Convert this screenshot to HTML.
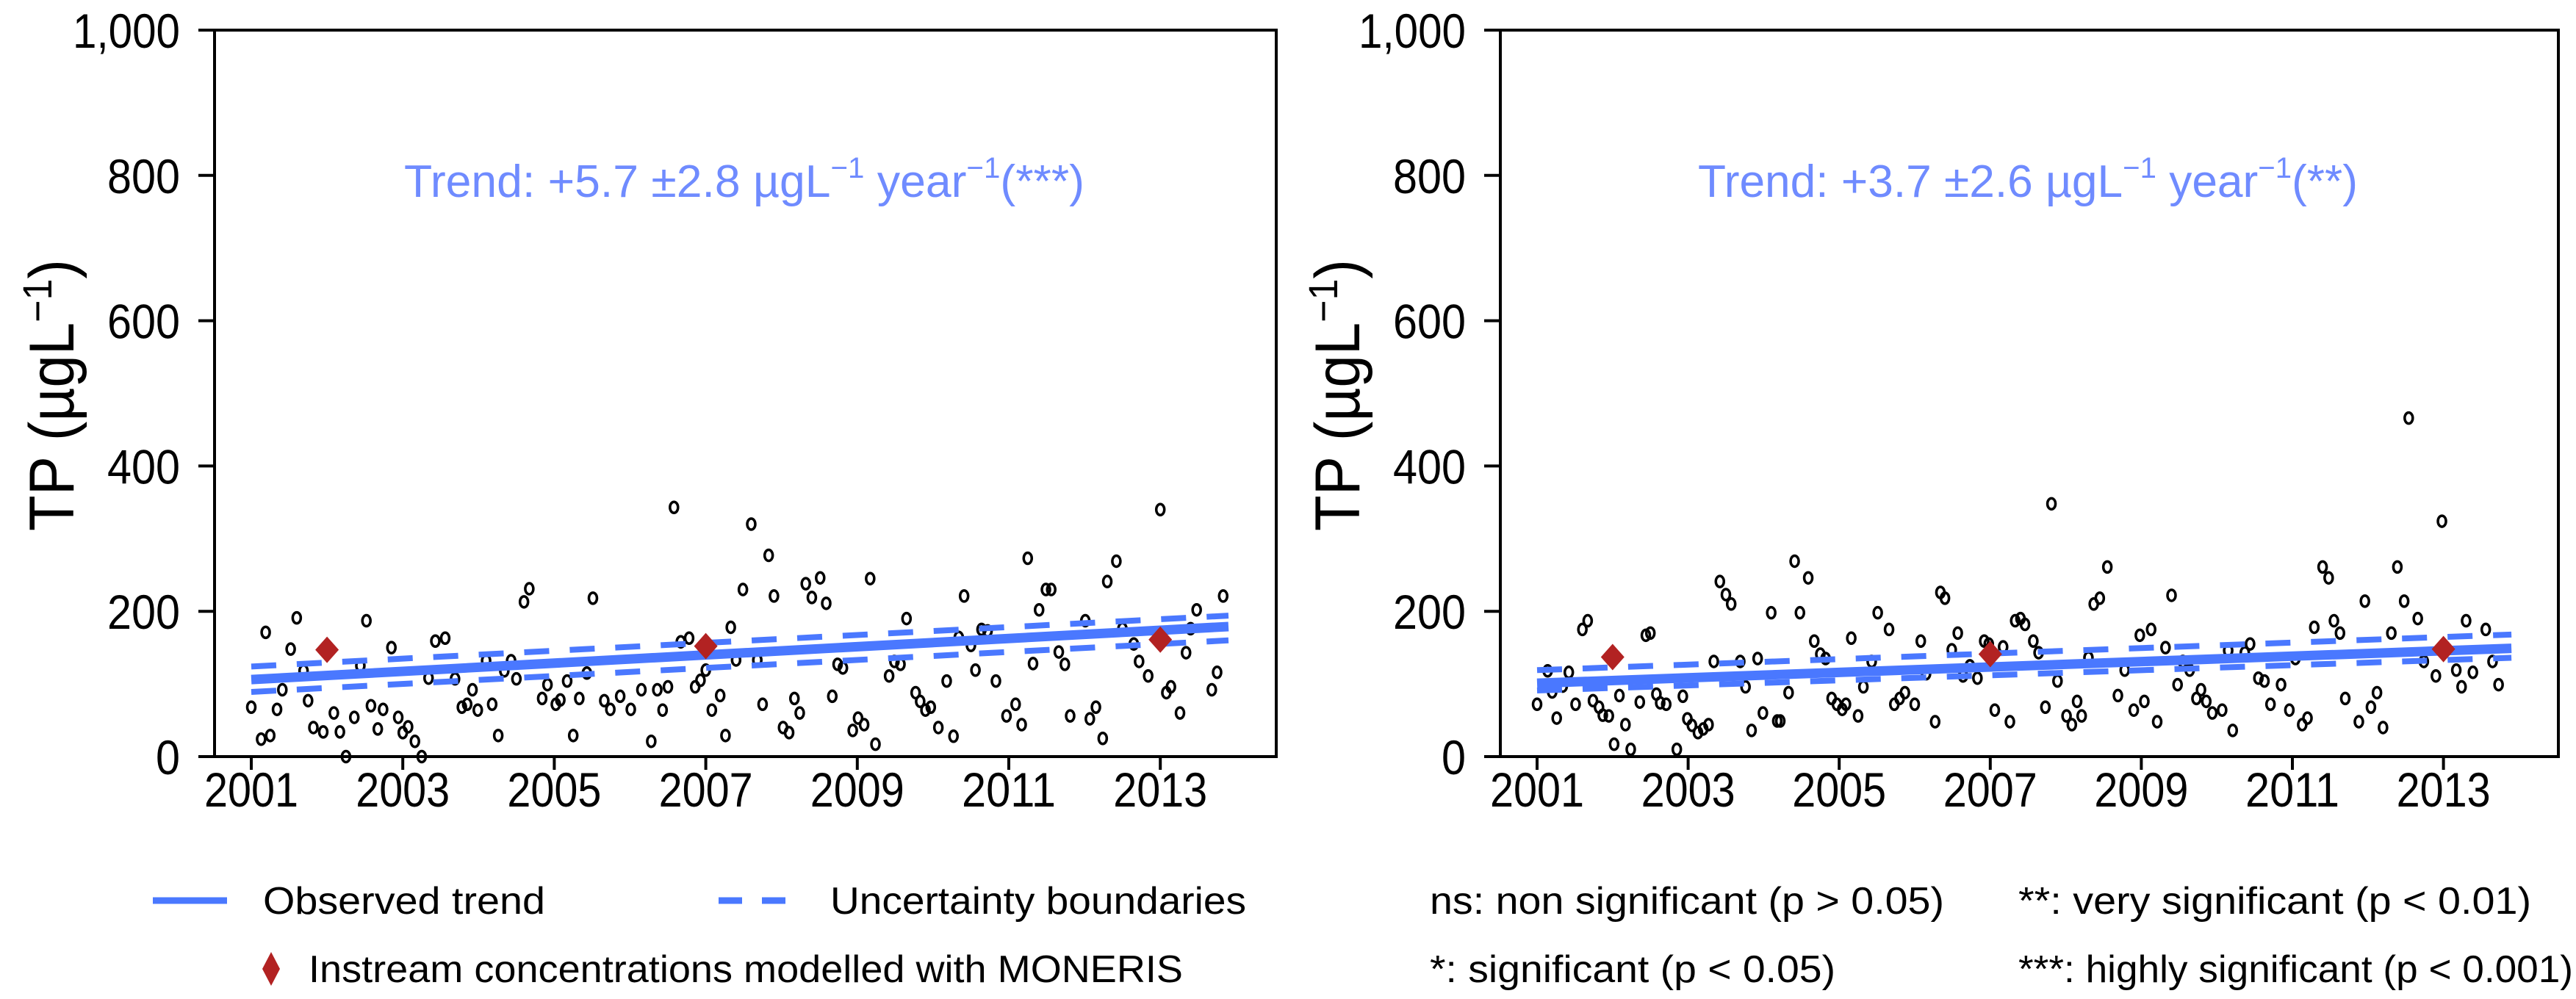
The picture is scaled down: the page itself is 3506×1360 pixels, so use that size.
<!DOCTYPE html>
<html><head><meta charset="utf-8"><style>
html,body{margin:0;padding:0;background:#fff;}
svg{display:block;font-family:"Liberation Sans",sans-serif;}
</style></head><body>
<svg id="c" width="3506" height="1360" viewBox="0 0 3506 1360" xmlns="http://www.w3.org/2000/svg">
<g id="legend" font-size="52" fill="#000">
  <line x1="208" y1="1226" x2="309" y2="1226" stroke="#4a78ff" stroke-width="9"/>
  <text x="358" y="1244" textLength="384" lengthAdjust="spacingAndGlyphs">Observed trend</text>
  <line x1="978" y1="1226" x2="1069" y2="1226" stroke="#4a78ff" stroke-width="9" stroke-dasharray="32,27"/>
  <text x="1130" y="1244" textLength="566" lengthAdjust="spacingAndGlyphs">Uncertainty boundaries</text>
  <path d="M369 1296 L381 1319 L369 1342 L357 1319 Z" fill="#b22222"/>
  <text x="420" y="1337" textLength="1190" lengthAdjust="spacingAndGlyphs">Instream concentrations modelled with MONERIS</text>
  <text x="1946" y="1244" textLength="700" lengthAdjust="spacingAndGlyphs">ns: non significant (p &gt; 0.05)</text>
  <text x="2747" y="1244" textLength="698" lengthAdjust="spacingAndGlyphs">**: very significant (p &lt; 0.01)</text>
  <text x="1946" y="1337" textLength="552" lengthAdjust="spacingAndGlyphs">*: significant (p &lt; 0.05)</text>
  <text x="2747" y="1337" textLength="755" lengthAdjust="spacingAndGlyphs">***: highly significant (p &lt; 0.001)</text>
</g>
</svg>
<script>
// ---- data ----
const yTicks = [0, 200, 400, 600, 800, 1000];
const yTickLabels = ["0", "200", "400", "600", "800", "1,000"];
const xTicks = [2001, 2003, 2005, 2007, 2009, 2011, 2013];
const xTickLabels = ["2001", "2003", "2005", "2007", "2009", "2011", "2013"];

const leftObsX = [2001.00,2001.13,2001.19,2001.25,2001.34,2001.41,2001.52,2001.60,2001.69,2001.75,2001.82,2001.95,2002.09,2002.17,2002.25,2002.36,2002.44,2002.52,2002.58,2002.67,2002.74,2002.85,2002.94,2003.00,2003.07,2003.16,2003.25,2003.34,2003.43,2003.56,2003.69,2003.78,2003.85,2003.92,2003.99,2004.10,2004.18,2004.26,2004.34,2004.43,2004.50,2004.60,2004.67,2004.84,2004.91,2005.02,2005.08,2005.17,2005.25,2005.33,2005.43,2005.51,2005.66,2005.74,2005.87,2006.01,2006.15,2006.28,2006.36,2006.43,2006.50,2006.58,2006.67,2006.78,2006.86,2006.93,2007.00,2007.08,2007.19,2007.26,2007.33,2007.40,2007.49,2007.60,2007.68,2007.75,2007.83,2007.90,2008.02,2008.10,2008.17,2008.24,2008.32,2008.40,2008.51,2008.59,2008.67,2008.74,2008.81,2008.94,2009.01,2009.09,2009.17,2009.24,2009.42,2009.49,2009.57,2009.65,2009.77,2009.83,2009.90,2009.97,2010.07,2010.18,2010.27,2010.34,2010.41,2010.50,2010.56,2010.64,2010.72,2010.83,2010.97,2011.09,2011.17,2011.25,2011.32,2011.40,2011.49,2011.56,2011.66,2011.74,2011.81,2012.01,2012.07,2012.15,2012.24,2012.30,2012.42,2012.50,2012.65,2012.72,2012.84,2013.00,2013.08,2013.14,2013.26,2013.34,2013.40,2013.48,2013.68,2013.75,2013.83];
const leftObsY = [68,24,171,29,65,92,148,191,118,77,40,34,60,34,0,54,125,187,70,38,65,150,54,33,41,21,0,108,159,163,107,68,72,92,64,132,72,29,118,132,107,213,231,80,99,72,78,104,29,80,115,218,77,65,83,65,92,21,92,64,96,343,158,163,96,105,119,64,84,29,178,133,230,320,133,72,277,221,40,33,80,60,238,219,246,211,83,127,122,36,53,44,245,17,111,131,127,190,88,76,64,68,40,104,28,164,221,153,119,175,173,104,56,72,44,273,128,202,230,230,144,127,56,187,52,68,25,241,269,176,155,131,111,340,88,96,60,143,176,202,92,116,221];

const rightObsX = [2001.0,2001.14,2001.2,2001.26,2001.34,2001.42,2001.51,2001.6,2001.67,2001.74,2001.82,2001.87,2001.95,2002.02,2002.09,2002.17,2002.24,2002.36,2002.44,2002.5,2002.58,2002.63,2002.71,2002.85,2002.93,2002.99,2003.05,2003.13,2003.2,2003.27,2003.34,2003.42,2003.5,2003.57,2003.69,2003.76,2003.84,2003.92,2003.99,2004.1,2004.18,2004.22,2004.33,2004.41,2004.48,2004.59,2004.67,2004.75,2004.82,2004.9,2004.97,2005.04,2005.09,2005.16,2005.25,2005.32,2005.43,2005.51,2005.66,2005.73,2005.8,2005.87,2006.0,2006.08,2006.15,2006.27,2006.34,2006.4,2006.49,2006.57,2006.64,2006.73,2006.83,2006.92,2006.98,2007.06,2007.17,2007.26,2007.33,2007.4,2007.46,2007.57,2007.64,2007.73,2007.81,2007.89,2008.01,2008.08,2008.15,2008.21,2008.3,2008.37,2008.45,2008.55,2008.69,2008.78,2008.9,2008.98,2009.04,2009.13,2009.21,2009.32,2009.4,2009.48,2009.55,2009.64,2009.73,2009.79,2009.86,2009.94,2010.07,2010.15,2010.21,2010.37,2010.44,2010.55,2010.63,2010.71,2010.85,2010.96,2011.04,2011.13,2011.2,2011.29,2011.4,2011.48,2011.55,2011.63,2011.7,2011.88,2011.96,2012.04,2012.12,2012.2,2012.31,2012.39,2012.48,2012.54,2012.66,2012.74,2012.9,2012.98,2013.17,2013.24,2013.3,2013.39,2013.56,2013.65,2013.73];
const rightObsY = [72,118,89,53,97,116,72,175,187,77,68,57,56,17,84,44,10,75,167,170,86,74,72,10,83,52,43,33,38,44,131,241,223,210,131,96,36,135,60,198,49,49,88,269,198,246,159,141,135,80,72,65,72,163,56,96,131,198,175,72,80,88,72,159,114,48,226,218,147,170,111,125,108,159,155,64,151,48,187,190,182,159,143,68,348,104,56,44,76,56,136,210,218,261,84,119,64,167,76,175,48,150,222,99,131,119,80,92,76,60,64,146,36,143,155,108,104,72,99,64,135,44,53,178,261,246,187,170,80,48,214,68,88,40,170,261,214,466,190,131,111,324,119,96,187,116,175,131,99,222];

const leftTrendX = [2001.0, 2013.9];
const leftTrendY = [106, 179];
const leftUpperY = [124, 194];
const leftLowerY = [89, 160];
const rightTrendX = [2001.0, 2013.9];
const rightTrendY = [101, 149];
const rightUpperY = [119, 168];
const rightLowerY = [91, 136];

const monerisYears = [2002, 2007, 2013];
const leftMoneris = [147, 152, 161];
const rightMoneris = [137, 141, 148];

const leftTrendText = ["Trend: +5.7 \u00B12.8 \u00B5gL", "\u22121", " year", "\u22121", "(***)"];
const rightTrendText = ["Trend: +3.7 \u00B12.6 \u00B5gL", "\u22121", " year", "\u22121", "(**)"];

// ---- drawing ----
const NS = "http://www.w3.org/2000/svg";
const svg = document.getElementById("c");
function mk(tag, attrs, parent) {
  const e = document.createElementNS(NS, tag);
  for (const k in attrs) e.setAttribute(k, attrs[k]);
  (parent || svg).appendChild(e);
  return e;
}
function labelWidth(s) {
  let w = 0;
  for (const ch of s) w += (ch === ",") ? 14 : 33;
  return w;
}

function panel(cfg) {
  const g = mk("g", {});
  
  
  const X = v => cfg.x2001 + (v - 2001) * cfg.perYear;
  const Y = v => 1030 - v * 0.989;

  const box = mk("rect", {x: cfg.left, y: 41, width: cfg.right - cfg.left, height: 989, fill: "none", stroke: "#000", "stroke-width": 4}, g);
  
  
  const xaxisLine = mk("line", {x1: cfg.left - 22, y1: 1030, x2: cfg.left, y2: 1030, stroke: "#000", "stroke-width": 4}, g);
  
  

  yTicks.forEach((t, i) => {
    const tk = mk("line", {x1: cfg.left - 22, y1: Y(t), x2: cfg.left, y2: Y(t), stroke: "#000", "stroke-width": 4}, g);
    
    
    const lb = mk("text", {x: cfg.left - 47, y: Y(t) + 24, "text-anchor": "end", "font-size": 66, textLength: labelWidth(yTickLabels[i]), lengthAdjust: "spacingAndGlyphs"}, g);
    lb.textContent = yTickLabels[i];
    
    
  });
  xTicks.forEach((t, i) => {
    const tk = mk("line", {x1: X(t), y1: 1030, x2: X(t), y2: 1048, stroke: "#000", "stroke-width": 4}, g);
    
    
    const lb = mk("text", {x: X(t), y: 1098, "text-anchor": "middle", "font-size": 66, textLength: 128, lengthAdjust: "spacingAndGlyphs"}, g);
    lb.textContent = xTickLabels[i];
    
    
  });

  const yt = mk("text", {x: 0, y: 0, "font-size": 86, "text-anchor": "middle", transform: "translate(" + (cfg.titleX) + ",538) rotate(-90)", textLength: 370, lengthAdjust: "spacingAndGlyphs"}, g);
  
  
  const t1 = mk("tspan", {}, yt); t1.textContent = "TP (\u00B5gL";
  const t2 = mk("tspan", {dy: -30, "font-size": 56}, yt); t2.textContent = "\u22121";
  const t3 = mk("tspan", {dy: 30}, yt); t3.textContent = ")";

  const pts = mk("g", {fill: "none", stroke: "#000", "stroke-width": 3.5}, g);
  
  
  const n = Math.min(cfg.xs.length, cfg.ys.length);
  for (let i = 0; i < n; i++) {
    const c = mk("ellipse", {cx: X(cfg.xs[i]), cy: Y(cfg.ys[i]), rx: 5.5, ry: 7.5}, pts);
    
    
  }

  const up = mk("line", {x1: X(cfg.tx[0]), y1: Y(cfg.up[0]), x2: X(cfg.tx[1]), y2: Y(cfg.up[1]), stroke: "#4a78ff", "stroke-width": 8, "stroke-dasharray": "34,28"}, g);
  
  
  const lo = mk("line", {x1: X(cfg.tx[0]), y1: Y(cfg.lo[0]), x2: X(cfg.tx[1]), y2: Y(cfg.lo[1]), stroke: "#4a78ff", "stroke-width": 8, "stroke-dasharray": "34,28"}, g);
  
  
  const tr = mk("line", {x1: X(cfg.tx[0]), y1: Y(cfg.ty[0]), x2: X(cfg.tx[1]), y2: Y(cfg.ty[1]), stroke: "#4a78ff", "stroke-width": 13}, g);
  
  

  monerisYears.forEach((yr, i) => {
    const cx = X(yr), cy = Y(cfg.mon[i]);
    const d = mk("path", {d: `M${cx} ${cy-18} L${cx+16} ${cy} L${cx} ${cy+18} L${cx-16} ${cy} Z`, fill: "#b22222"}, g);
    
    
  });

  const tt = mk("text", {x: cfg.textX, y: 268, "font-size": 62, fill: "#6f8bff", textLength: cfg.textW, lengthAdjust: "spacingAndGlyphs"}, g);
  
  
  const a = mk("tspan", {}, tt); a.textContent = cfg.txt[0];
  const b = mk("tspan", {dy: -26, "font-size": 40}, tt); b.textContent = cfg.txt[1];
  const c2 = mk("tspan", {dy: 26}, tt); c2.textContent = cfg.txt[2];
  const d2 = mk("tspan", {dy: -26, "font-size": 40}, tt); d2.textContent = cfg.txt[3];
  const e2 = mk("tspan", {dy: 26}, tt); e2.textContent = cfg.txt[4];
}

panel({name: "left-panel", left: 292, right: 1737, x2001: 342, perYear: 103.1, titleX: 100,
  xs: leftObsX, ys: leftObsY, tx: leftTrendX, ty: leftTrendY, up: leftUpperY, lo: leftLowerY,
  mon: leftMoneris, txt: leftTrendText, textX: 550, textW: 926});
panel({name: "right-panel", left: 2042, right: 3482, x2001: 2092, perYear: 102.8, titleX: 1850,
  xs: rightObsX, ys: rightObsY, tx: rightTrendX, ty: rightTrendY, up: rightUpperY, lo: rightLowerY,
  mon: rightMoneris, txt: rightTrendText, textX: 2311, textW: 898});
</script>
</body></html>
